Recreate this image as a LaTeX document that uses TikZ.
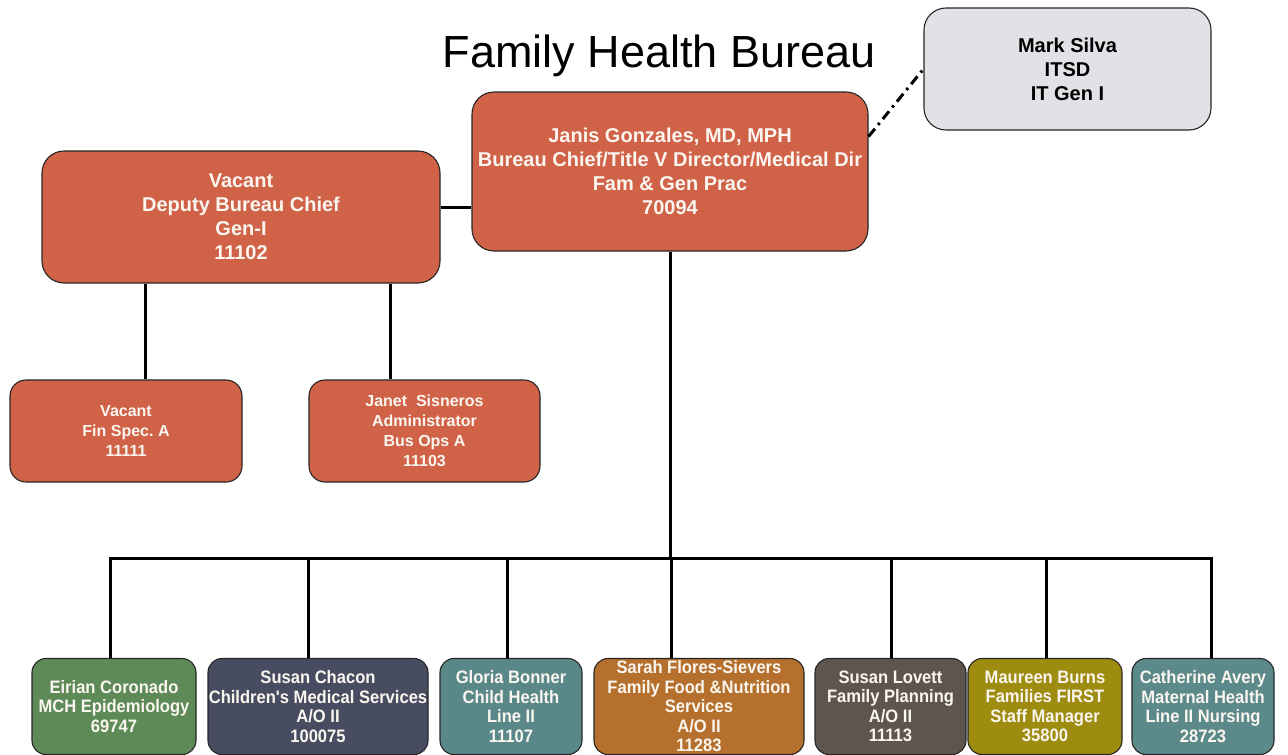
\documentclass[tikz,border=0pt]{standalone}
\usepackage{fontspec}
\setmainfont{Liberation Sans}
\newfontfamily\narrowf[FakeStretch=0.92]{Liberation Sans}
\definecolor{rust}{HTML}{D06248}
\definecolor{silvergray}{HTML}{E1E2E6}
\definecolor{cgreen}{HTML}{5E8A58}
\definecolor{cslate}{HTML}{474C60}
\definecolor{cteal}{HTML}{5A8888}
\definecolor{cbrown}{HTML}{B5702E}
\definecolor{ctaupe}{HTML}{5E554E}
\definecolor{colive}{HTML}{9E8C10}
\definecolor{cteal2}{HTML}{5C8A8A}
\definecolor{offwhite}{HTML}{FBF6F0}
\begin{document}
\begin{tikzpicture}[x=1pt,y=-1pt,
  orgbox/.style={draw=black!85, line width=1.1pt, inner sep=0pt, align=center, text=offwhite},
  bigbox/.style={orgbox, rounded corners=22pt, font=\bfseries\fontsize{20}{24}\selectfont},
  midbox/.style={orgbox, rounded corners=16pt, font=\bfseries\fontsize{16}{20}\selectfont},
  lowbox/.style={orgbox, rounded corners=14pt, minimum height=96pt, font=\narrowf\bfseries\fontsize{18}{19.5}\selectfont},
  link/.style={line width=3pt, black}]
\useasboundingbox (0,0) rectangle (1288,755);
\clip (0,0) rectangle (1288,755);
\fill[white] (0,0) rectangle (1288,755);

\node[font=\fontsize{45}{54}\selectfont, anchor=base, inner sep=0pt] (title) at (659,67) {Family Health Bureau};

\node[bigbox, fill=rust, minimum width=396pt, minimum height=159pt] (janis) at (670,171.5)
  {Janis Gonzales, MD, MPH\\Bureau Chief/Title V Director/Medical Dir\\Fam \& Gen Prac\\70094};
\node[bigbox, fill=silvergray, text=black, minimum width=287pt, minimum height=122pt] (mark) at (1067.5,69)
  {Mark Silva\\ITSD\\IT Gen I};
\node[bigbox, fill=rust, minimum width=398pt, minimum height=132pt] (deputy) at (241,217)
  {Vacant\\Deputy Bureau Chief\\Gen-I\\11102};
\node[midbox, fill=rust, minimum width=232pt, minimum height=102pt] (fin) at (126,431)
  {Vacant\\Fin Spec.\ A\\11111};
\node[midbox, fill=rust, minimum width=231pt, minimum height=102pt] (janet) at (424.5,431)
  {Janet~ Sisneros\\Administrator\\Bus Ops A\\11103};

\node[lowbox, fill=cgreen, minimum width=164pt] (eirian) at (114,706.5)
  {Eirian Coronado\\MCH Epidemiology\\69747};
\node[lowbox, fill=cslate, minimum width=220pt] (chacon) at (318,706.5)
  {Susan Chacon\\Children's Medical Services\\A/O II\\100075};
\node[lowbox, fill=cteal, minimum width=142pt] (gloria) at (511,706.5)
  {Gloria Bonner\\Child Health\\Line II\\11107};
\node[lowbox, fill=cbrown, minimum width=210pt] (sarah) at (699,706.5)
  {Sarah Flores-Sievers\\Family Food \&Nutrition\\Services\\A/O II\\11283};
\node[lowbox, fill=ctaupe, minimum width=151pt] (lovett) at (890.5,706.5)
  {Susan Lovett\\Family Planning\\A/O II\\11113};
\node[lowbox, fill=colive, minimum width=154pt] (maureen) at (1045,706.5)
  {Maureen Burns\\Families FIRST\\Staff Manager\\35800};
\node[lowbox, fill=cteal2, minimum width=142pt] (cath) at (1203,706.5)
  {Catherine Avery\\Maternal Health\\Line II Nursing\\28723};

% connectors
\coordinate (yc) at (0,207);
\draw[link] (deputy.east |- yc) -- (janis.west |- yc);
\draw[line width=3pt, dash pattern=on 10pt off 5pt on 2.5pt off 5pt] (janis.10) -- (mark.west);
\coordinate (f1) at (145,0);
\coordinate (f2) at (390,0);
\draw[link] (f1 |- deputy.south) -- (f1 |- fin.north);
\draw[link] (f2 |- deputy.south) -- (f2 |- janet.north);
\coordinate (bus) at (0,558);
\draw[link] (janis.south) -- (janis.south |- bus);
\coordinate (d1) at (110,558);
\coordinate (d2) at (308,558);
\coordinate (d3) at (507,558);
\coordinate (d4) at (671,558);
\coordinate (d5) at (891,558);
\coordinate (d6) at (1046,558);
\coordinate (d7) at (1211,558);
\draw[link, line cap=rect] (d1) -- (d7);
\draw[link] (d1) -- (d1 |- eirian.north);
\draw[link] (d2) -- (d2 |- chacon.north);
\draw[link] (d3) -- (d3 |- gloria.north);
\draw[link] (d4) -- (d4 |- sarah.north);
\draw[link] (d5) -- (d5 |- lovett.north);
\draw[link] (d6) -- (d6 |- maureen.north);
\draw[link] (d7) -- (d7 |- cath.north);
\end{tikzpicture}
\end{document}
